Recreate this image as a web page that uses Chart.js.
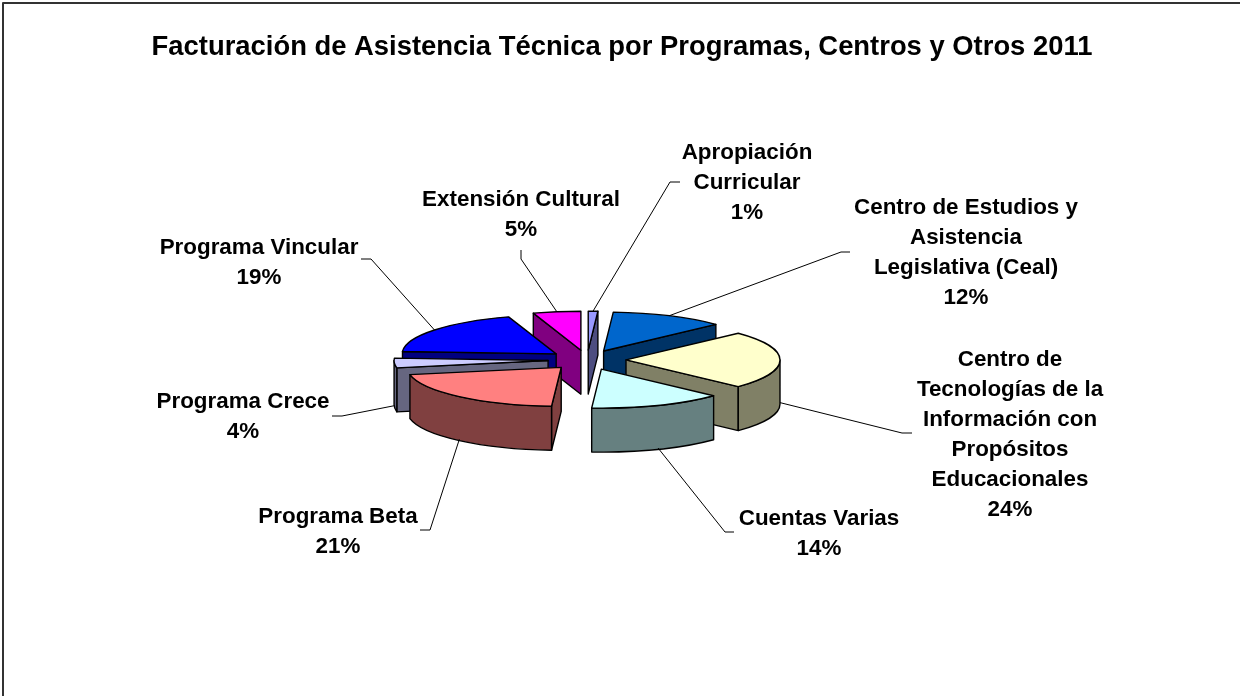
<!DOCTYPE html>
<html>
<head>
<meta charset="utf-8">
<style>html,body{margin:0;padding:0;background:#fff}canvas{display:block}</style>
<script src="https://cdn.jsdelivr.net/npm/chart.js@4"></script>
</head>
<body>
<canvas id="c" width="1240" height="696"></canvas>
<script>
const chartTitle = 'Facturación de Asistencia Técnica por Programas, Centros y Otros 2011';
const categories = ['Apropiación Curricular','Centro de Estudios y Asistencia Legislativa (Ceal)','Centro de Tecnologías de la Información con Propósitos Educacionales','Cuentas Varias','Programa Beta','Programa Crece','Programa Vincular','Extensión Cultural'];
const shares = [1,12,24,14,21,4,19,5];
const topColors = ['#9999FF','#0066CC','#FFFFCC','#CCFFFF','#FF8080','#CCCCFF','#0000FF','#FF00FF'];
const wallColors = ['#4D4D80','#003366','#808066','#668080','#804040','#666680','#000080','#800080'];
const labelLines = [
  ['Apropiación','Curricular'],
  ['Centro de Estudios y','Asistencia','Legislativa (Ceal)'],
  ['Centro de','Tecnologías de la','Información con','Propósitos','Educacionales'],
  ['Cuentas Varias'],
  ['Programa Beta'],
  ['Programa Crece'],
  ['Programa Vincular'],
  ['Extensión Cultural']
];
// label block layout: centre x, first line y
const labelPlaces = [[747,153],[966,208],[1010,360],[819,519],[338,517],[243,402],[259,248],[521,200]];
// leader line waypoints after the rim point
const leaderPaths = [
  [[670,182],[680,182]],
  [[841,252],[850,252]],
  [[902,433],[912,433]],
  [[725,532],[734,532]],
  [[430,530],[420,530]],
  [[342,416],[332,416]],
  [[371,259],[361,259]],
  [[521,259],[521,250]]
];
const FONT = '"Liberation Sans", Arial, sans-serif';
const TILT = 0.253, DEPTH = 44, EXPLODE = 39, RADIUS = 154, LINE_GAP = 30;

function tiltY(chart, y){ const cy = (chart.chartArea.top + chart.chartArea.bottom)/2; return cy + (y-cy)*TILT; }

const pie3d = {
  id:'pie3d',
  afterLayout(chart){
    const t = chart.titleBlock; t.left = 4; t.right = 1240; t.width = 1236;
  },
  afterDatasetsUpdate(chart){
    const a = chart.chartArea, cx=(a.left+a.right)/2, cy=(a.top+a.bottom)/2;
    chart.getDatasetMeta(0).data.forEach(el=>{
      const mid=(el.startAngle+el.endAngle)/2;
      el.x = cx+Math.cos(mid)*EXPLODE;
      el.y = cy+Math.sin(mid)*EXPLODE;
    });
  },
  beforeDatasetsDraw(chart){
    const ctx=chart.ctx, arcs=chart.getDatasetMeta(0).data;
    const order=arcs.map((el,i)=>i).sort((p,q)=>arcs[p].y-arcs[q].y);
    ctx.save();
    ctx.strokeStyle='#000'; ctx.lineWidth=1.4; ctx.lineJoin='round';
    order.forEach(i=>{
      const el=arcs[i], R=el.outerRadius, x=el.x, y=tiltY(chart,el.y);
      ctx.fillStyle=wallColors[i];
      const radial=(ang)=>{
        const px=x+Math.cos(ang)*R, py=y+Math.sin(ang)*R*TILT;
        ctx.beginPath(); ctx.moveTo(x,y); ctx.lineTo(px,py); ctx.lineTo(px,py+DEPTH); ctx.lineTo(x,y+DEPTH); ctx.closePath();
        ctx.fill(); ctx.stroke();
      };
      if(Math.sin(el.startAngle-Math.PI/2)>1e-6) radial(el.startAngle);
      if(Math.sin(el.endAngle+Math.PI/2)>1e-6) radial(el.endAngle);
      const a0=Math.max(el.startAngle,0), a1=Math.min(el.endAngle,Math.PI);
      if(a1>a0){
        ctx.beginPath();
        ctx.ellipse(x,y,R,R*TILT,0,a0,a1);
        ctx.ellipse(x,y+DEPTH,R,R*TILT,0,a1,a0,true);
        ctx.closePath(); ctx.fill(); ctx.stroke();
      }
    });
    ctx.restore();
  },
  beforeDatasetDraw(chart){
    const ctx=chart.ctx, a=chart.chartArea, cy=(a.top+a.bottom)/2;
    ctx.save(); ctx.translate(0,cy); ctx.scale(1,TILT); ctx.translate(0,-cy);
  },
  afterDatasetDraw(chart){ chart.ctx.restore(); },
  afterDatasetsDraw(chart){
    const ctx=chart.ctx, arcs=chart.getDatasetMeta(0).data;
    ctx.save();
    // slice outlines
    ctx.strokeStyle='#000'; ctx.lineWidth=1.4; ctx.lineJoin='round';
    arcs.forEach(el=>{
      const R=el.outerRadius, x=el.x, y=tiltY(chart,el.y);
      ctx.beginPath(); ctx.moveTo(x,y);
      ctx.ellipse(x,y,R,R*TILT,0,el.startAngle,el.endAngle);
      ctx.closePath(); ctx.stroke();
    });
    // leaders
    ctx.lineWidth=1;
    arcs.forEach((el,i)=>{
      const mid=(el.startAngle+el.endAngle)/2, R=el.outerRadius, x=el.x, y=tiltY(chart,el.y);
      const sx=x+Math.cos(mid)*R;
      const sy=y+Math.sin(mid)*R*TILT+(Math.sin(mid)>=-0.01?DEPTH*0.97:0);
      ctx.beginPath(); ctx.moveTo(sx,sy);
      leaderPaths[i].forEach(p=>ctx.lineTo(p[0],p[1]));
      ctx.stroke();
    });
    // labels
    ctx.fillStyle='#000'; ctx.textAlign='center'; ctx.textBaseline='middle';
    ctx.font='bold 22.4px '+FONT;
    arcs.forEach((el,i)=>{
      const lines=labelLines[i].concat([shares[i]+'%']);
      lines.forEach((t,k)=>ctx.fillText(t,labelPlaces[i][0],labelPlaces[i][1]+k*LINE_GAP));
    });
    // frame
    ctx.strokeStyle='#333'; ctx.lineWidth=2;
    ctx.beginPath(); ctx.moveTo(3,696); ctx.lineTo(3,3); ctx.lineTo(1240,3); ctx.stroke();
    ctx.restore();
  }
};

new Chart(document.getElementById('c'),{
  type:'pie',
  data:{labels:categories,datasets:[{data:shares,backgroundColor:topColors,borderWidth:0,clip:false}]},
  plugins:[pie3d],
  options:{
    responsive:false,animation:false,radius:RADIUS,
    layout:{padding:{right:66,bottom:46.5}},
    plugins:{
      legend:{display:false},tooltip:{enabled:false},
      title:{display:true,text:chartTitle,color:'#000',font:{family:FONT,size:27.4,weight:'bold',lineHeight:1.2},padding:{top:31.5,bottom:6}}
    }
  }
});
</script>
</body>
</html>
